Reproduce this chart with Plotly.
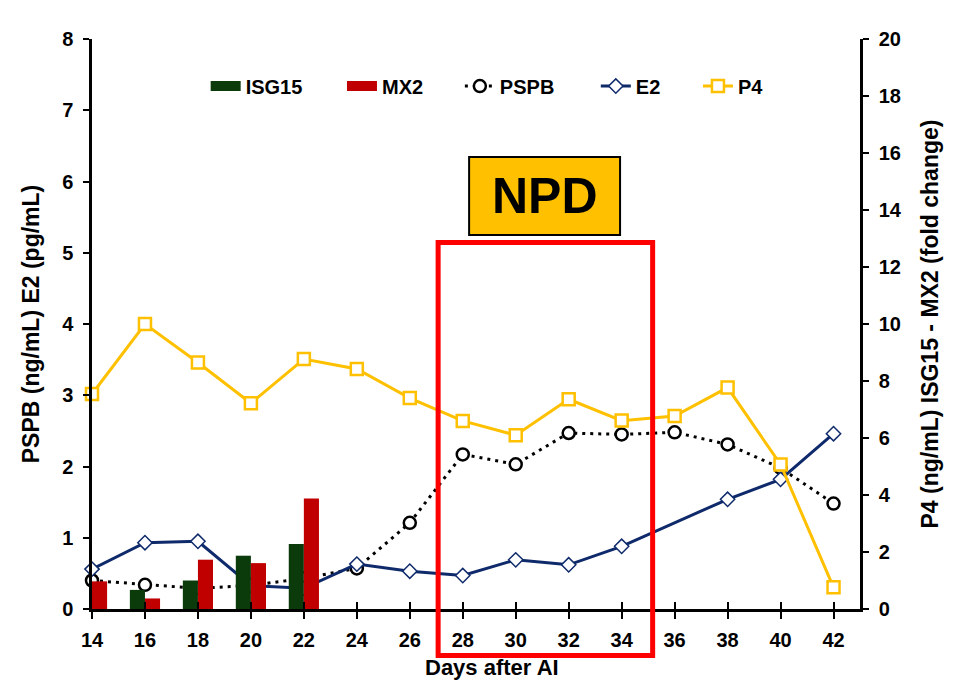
import plotly.graph_objects as go

days = [14, 16, 18, 20, 22, 24, 26, 28, 30, 32, 34, 36, 38, 40, 42]
bar_days = [14, 16, 18, 20, 22]
isg15 = [0.0, 0.67, 1.0, 1.87, 2.28]
mx2 = [0.97, 0.37, 1.73, 1.61, 3.88]
pspb = [0.40, 0.34, 0.29, 0.33, 0.43, 0.57, 1.21, 2.17, 2.03, 2.47, 2.45, 2.48, 2.31, 1.98, 1.48]
e2 = [0.56, 0.93, 0.95, 0.33, 0.29, 0.63, 0.53, 0.47, 0.69, 0.62, 0.88, None, 1.54, 1.82, 2.46]
p4 = [7.54, 10.0, 8.65, 7.22, 8.77, 8.42, 7.40, 6.60, 6.10, 7.36, 6.61, 6.77, 7.77, 5.07, 0.76]

FONT = "Arial, Liberation Sans, sans-serif"
GREEN = "#0B3B0B"
RED = "#C00000"
NAVY = "#0F2A6B"
GOLD = "#FFC000"
bw = 0.57

fig = go.Figure()
fig.add_trace(go.Bar(x=bar_days, y=isg15, name="ISG15", marker=dict(color=GREEN, line=dict(width=0)),
                     width=bw, offset=-bw, yaxis="y2", showlegend=False))
fig.add_trace(go.Bar(x=bar_days, y=mx2, name="MX2", marker=dict(color=RED, line=dict(width=0)),
                     width=bw, offset=0, yaxis="y2", showlegend=False))
# legend proxies for bars (wide rectangle swatches)
fig.add_trace(go.Scatter(x=[None], y=[None], mode="lines", name="ISG15",
                         line=dict(color=GREEN, width=12), legend="legend"))
fig.add_trace(go.Scatter(x=[None], y=[None], mode="lines", name="MX2",
                         line=dict(color=RED, width=12), legend="legend2"))
fig.add_trace(go.Scatter(x=days, y=pspb, name="PSPB", mode="lines+markers", legend="legend3",
                         cliponaxis=False,
                         line=dict(color="black", width=3, dash="3px,5px"),
                         marker=dict(symbol="circle", size=12, color="white", line=dict(color="black", width=2.5))))
fig.add_trace(go.Scatter(x=days, y=e2, name="E2", mode="lines+markers", connectgaps=True, legend="legend4",
                         cliponaxis=False,
                         line=dict(color=NAVY, width=3),
                         marker=dict(symbol="diamond", size=11, color="white", line=dict(color=NAVY, width=1.5))))
fig.add_trace(go.Scatter(x=days, y=p4, name="P4", mode="lines+markers", yaxis="y2", legend="legend5",
                         cliponaxis=False,
                         line=dict(color=GOLD, width=3),
                         marker=dict(symbol="square", size=12, color="white", line=dict(color=GOLD, width=2.5))))
# invisible trace on overlay x axis to draw crossing ticks
fig.add_trace(go.Scatter(x=[14], y=[0], xaxis="x2", mode="markers", marker=dict(opacity=0),
                         showlegend=False, hoverinfo="skip"))

tickf = dict(family=FONT, size=20, color="black", weight="bold")
legf = dict(family=FONT, size=20, color="black", weight="bold")


def leg(xp):
    return dict(orientation="h", x=xp, y=0.9175, xanchor="left", yanchor="middle",
                font=legf, bgcolor="rgba(0,0,0,0)", borderwidth=0)


fig.update_layout(
    width=946, height=678,
    margin=dict(l=84, r=94, t=31, b=77, autoexpand=False),
    paper_bgcolor="white", plot_bgcolor="white",
    barmode="overlay",
    showlegend=True,
    legend=leg(0.148), legend2=leg(0.3255), legend3=leg(0.479), legend4=leg(0.656), legend5=leg(0.789),
    xaxis=dict(range=[14, 43], tickvals=days, ticktext=[str(d) for d in days],
               showline=True, linecolor="black", linewidth=2.5, ticks="outside", ticklen=7,
               tickwidth=2, tickcolor="black", showgrid=False, zeroline=False, tickfont=tickf,
               ticklabelstandoff=4),
    xaxis2=dict(range=[14, 43], tickvals=days, overlaying="x", anchor="y", side="bottom",
                showticklabels=False, ticks="inside", ticklen=7, tickwidth=2, tickcolor="black",
                showline=False, showgrid=False, zeroline=False),
    yaxis=dict(range=[0, 8], dtick=1, showline=True, linecolor="black", linewidth=2.5,
               ticks="outside", ticklen=6, tickwidth=2, tickcolor="black", showgrid=False,
               zeroline=False, tickfont=tickf, ticklabelstandoff=6,
               title=dict(text="PSPB (ng/mL) E2 (pg/mL)",
                          font=dict(family=FONT, size=23, color="black", weight="bold"), standoff=17)),
    yaxis2=dict(range=[0, 20], dtick=2, overlaying="y", side="right", showline=True,
                linecolor="black", linewidth=2.5, ticks="outside", ticklen=6, tickwidth=2,
                tickcolor="black", showgrid=False, zeroline=False, tickfont=tickf, ticklabelstandoff=6,
                title=dict(text="P4 (ng/mL) ISG15 - MX2 (fold change)",
                           font=dict(family=FONT, size=23, color="black", weight="bold"), standoff=22)),
)

# x axis title placed as annotation to match reference position
fig.add_annotation(x=0.521, y=-0.1035, xref="paper", yref="paper", text="Days after AI", showarrow=False,
                   xanchor="center", yanchor="middle",
                   font=dict(family=FONT, size=22, color="black", weight="bold"))

# red NPD window
fig.add_shape(type="rect", xref="x", yref="paper", x0=27.07, x1=35.17, y0=-0.0816, y1=0.643,
              line=dict(color="#FF0000", width=5), fillcolor="rgba(0,0,0,0)", layer="above")
# NPD label box
fig.add_shape(type="rect", xref="x", yref="paper", x0=28.24, x1=33.94, y0=0.656, y1=0.793,
              line=dict(color="black", width=2), fillcolor=GOLD, layer="above")
fig.add_annotation(x=31.09, y=0.7246, xref="x", yref="paper", text="NPD", showarrow=False,
                   xanchor="center", yanchor="middle",
                   font=dict(family=FONT, size=50, color="black", weight="bold"))

fig.write_html("out.html")
